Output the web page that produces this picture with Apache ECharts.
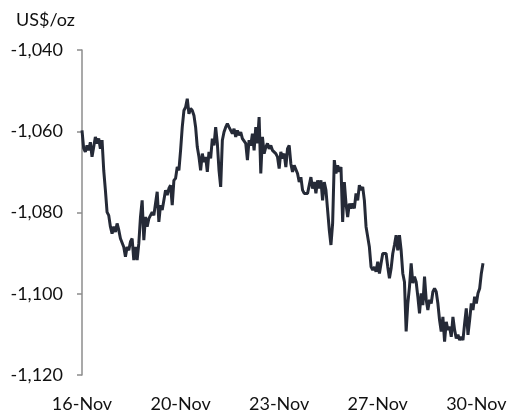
<!DOCTYPE html>
<html>
<head>
<meta charset="utf-8">
<script src="https://cdn.jsdelivr.net/npm/echarts@6/dist/echarts.min.js"></script>
<style>html,body{margin:0;padding:0;background:#fff}#c{width:512px;height:416px}</style>
</head>
<body>
<div id="c"></div>
<script>
var tickLabels = ["16-Nov", "20-Nov", "23-Nov", "27-Nov", "30-Nov"];
var labelEvery = 59;
var yTicks = { min: -1120, max: -1040, step: 20 };
var unitLabel = "US$/oz";

var seg1 = [-1059.8,-1064.2,-1065.1,-1063.5,-1064.7,-1062.7,-1066.3,-1063.9,-1061.4,-1063.0,
-1061.8,-1064.3,-1062.2,-1069.6,-1074.5,-1079.9,-1080.7,-1083.5,-1085.2,-1083.5,
-1084.8,-1082.7,-1084.3,-1086.4,-1086.0,-1088.5,-1090.9,-1088.5,-1089.3,-1087.2,
-1086.4,-1091.7,-1088.5,-1091.7,-1087.6,-1081.1,-1077.0,-1086.8,-1081.1,-1083.5,
-1081.5,-1080.7,-1079.9,-1080.7,-1077.8,-1074.9,-1082.3,-1078.2,-1079.4,-1077.0,
-1074.5,-1075.7,-1074.1,-1073.3,-1078.2];
var seg2 = [-1072.1,-1071.6,-1068.8,-1069.6,-1064.7,-1059.0,-1054.9,-1054.1,-1052.0,-1055.7,
-1054.4,-1054.9,-1056.1,-1059.0,-1063.9,-1066.3,-1069.6,-1065.5,-1067.6,-1066.3,
-1070.0,-1065.1,-1066.7,-1061.8,-1063.5,-1059.0,-1063.0,-1069.6,-1073.7,-1062.2,
-1060.2,-1059.0,-1058.1,-1059.0,-1059.4,-1060.6,-1059.4,-1061.4,-1059.8,-1061.0,
-1060.2,-1061.8,-1061.4,-1063.0,-1067.1,-1062.2,-1063.5,-1060.6,-1064.7,-1059.0,
-1063.0,-1056.5,-1070.4,-1061.4,-1065.5,-1063.9,-1063.0,-1064.3,-1063.5,-1064.7];
var seg3 = [-1064.7,-1065.5,-1066.3,-1069.2,-1065.1,-1066.7,-1065.5,-1068.8,-1064.3,-1063.5,
-1068.0,-1070.0,-1068.4,-1068.0,-1070.4,-1072.5,-1071.3,-1074.5,-1075.3,-1075.7,
-1075.3,-1075.3,-1071.3,-1074.1,-1072.5,-1075.3,-1072.1,-1074.1,-1072.1,-1077.0,
-1072.5,-1074.5,-1079.4,-1084.3,-1088.0,-1082.7,-1067.1,-1070.4,-1068.4,-1070.0,
-1068.8,-1082.3,-1072.5,-1077.8,-1081.1,-1077.8,-1079.0,-1077.8,-1079.0,-1075.3,
-1077.0,-1073.3,-1074.5,-1073.7,-1077.0,-1083.5,-1086.0,-1088.5,-1093.4,-1094.2];
var seg4 = [-1093.4,-1094.6,-1092.1,-1095.0,-1092.5,-1090.1,-1089.7,-1090.1,-1093.4,-1096.2,
-1093.8,-1090.1,-1088.0,-1085.6,-1089.3,-1085.6,-1089.3,-1095.0,-1097.1,-1109.3,
-1102.4,-1098.3,-1092.5,-1097.4,-1095.8,-1097.1,-1100.7,-1104.8,-1099.9,-1102.8,
-1095.8,-1101.5,-1104.0,-1101.5,-1102.4,-1099.5,-1098.7,-1099.5,-1102.4,-1106.5,
-1109.3,-1105.7,-1111.8,-1106.9,-1108.9,-1108.1,-1110.6,-1105.7,-1108.9,-1111.0,
-1110.1,-1111.4,-1110.6,-1111.4,-1107.3,-1103.6,-1110.1,-1106.5,-1102.4,-1104.0,
-1100.7,-1102.4,-1099.9,-1098.7,-1095.0,-1092.5];

var values = seg1.concat(seg2, seg3, seg4);
var categories = values.map(function (v, i) {
  return (i % labelEvery === 0 && tickLabels[i / labelEvery]) ? tickLabels[i / labelEvery] : ("p" + i);
});

var font = "Lato, 'Open Sans', sans-serif";
var chart = echarts.init(document.getElementById('c'));
chart.setOption({
  animation: false,
  backgroundColor: '#ffffff',
  title: {
    text: unitLabel, left: 11, top: 6,
    textStyle: { fontFamily: font, fontSize: 18, fontWeight: 'normal', color: '#111111' }
  },
  grid: { left: 82, right: 29, top: 50, bottom: 41, containLabel: false },
  xAxis: {
    type: 'category', data: categories, boundaryGap: false,
    axisLine: { show: false }, axisTick: { show: false }, splitLine: { show: false },
    axisLabel: {
      interval: labelEvery - 1, margin: 20,
      fontFamily: font, fontSize: 18, color: '#111111'
    }
  },
  yAxis: {
    type: 'value', min: yTicks.min, max: yTicks.max, interval: yTicks.step,
    axisLine: { show: true, lineStyle: { color: '#8c8c8c', width: 1.5 } },
    axisTick: { show: true, length: 5, lineStyle: { color: '#8c8c8c', width: 1.5 } },
    splitLine: { show: false },
    axisLabel: {
      margin: 19, fontFamily: font, fontSize: 18, color: '#111111',
      formatter: function (v) { return v.toLocaleString('en-US'); }
    }
  },
  series: [{
    type: 'line', data: values, showSymbol: false, symbol: 'none',
    lineStyle: { color: '#252a37', width: 3 }
  }]
});
</script>
</body>
</html>
